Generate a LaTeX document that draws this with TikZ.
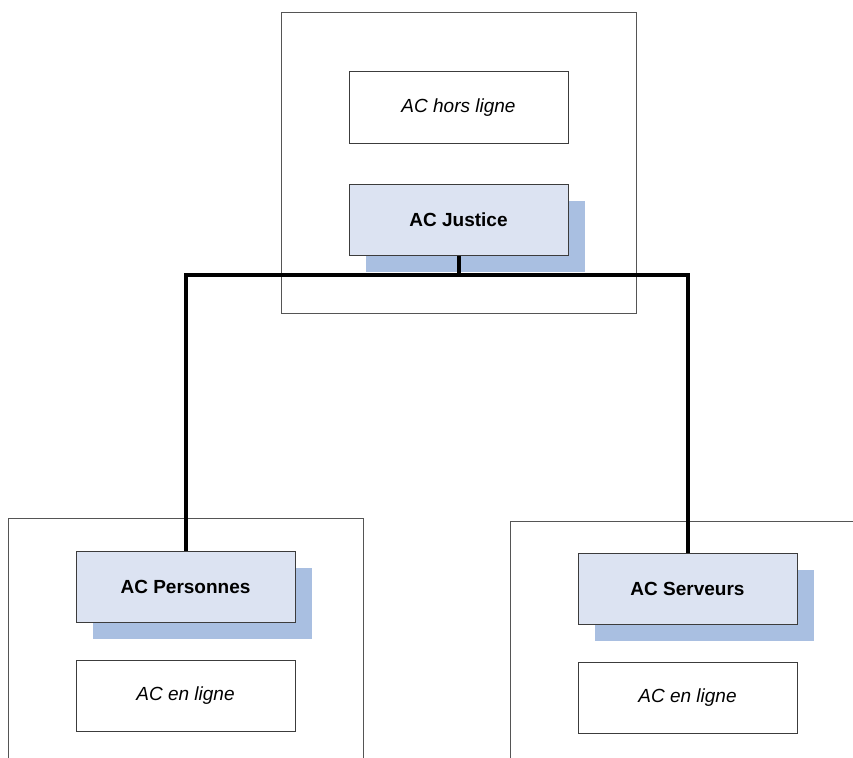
\documentclass[tikz,border=0pt]{standalone}
\usepackage{fontspec}
\setmainfont{Liberation Sans}
\definecolor{boxfill}{HTML}{DCE3F2}
\definecolor{shadowfill}{HTML}{A9BFE1}
\definecolor{boxline}{HTML}{3C3C3C}
\definecolor{frameline}{HTML}{555555}
\tikzset{
  frame/.style={draw=frameline, line width=1pt},
  cabox/.style={draw=boxline, line width=1pt, fill=boxfill,
    minimum width=219pt, minimum height=71pt, inner sep=0pt,
    font=\fontsize{19}{22}\selectfont\bfseries},
  cashadow/.style={fill=shadowfill, draw=none,
    minimum width=219pt, minimum height=71pt, inner sep=0pt},
  rolebox/.style={draw=boxline, line width=1pt, fill=white,
    minimum width=219pt, minimum height=71pt, inner sep=0pt,
    font=\fontsize{19}{22}\selectfont\itshape},
  bus/.style={line width=4pt, line join=miter, black}
}
\begin{document}
\begin{tikzpicture}[x=1pt, y=-1pt]
  \useasboundingbox (0,0) rectangle (853,757);
  \clip (0,0) rectangle (853,757);
  \fill[white] (0,0) rectangle (853,757);

  % domain frames
  \draw[frame] (281,13) rectangle (636,313);
  \draw[frame] (8,780) -- (8,518) -- (363,518) -- (363,780);
  \draw[frame] (510,780) -- (510,521) -- (870,521);

  % root CA
  \node[rolebox] (offline) at (458.5,107.5) {AC hors ligne};
  \node[cashadow] (justiceshadow) at (475.5,236.5) {};
  \node[cabox] (justice) at (458.5,219.5) {AC Justice};

  % subordinate CAs
  \node[cashadow] (persshadow) at (202.5,603.5) {};
  \node[cabox] (pers) at (185.5,586.5) {AC Personnes};
  \node[rolebox] (personline) at (185.5,695.5) {AC en ligne};

  \node[cashadow] (servshadow) at (704.5,605.5) {};
  \node[cabox] (serv) at (687.5,588.5) {AC Serveurs};
  \node[rolebox] (servonline) at (687.5,697.5) {AC en ligne};

  % hierarchy bus
  \coordinate (busL) at (185.5,275);
  \coordinate (busR) at (687.5,275);
  \draw[bus] (justice.south) -- (justice.south |- busL);
  \draw[bus] (pers.north) -- (busL) -- (busR) -- (serv.north);
\end{tikzpicture}
\end{document}
